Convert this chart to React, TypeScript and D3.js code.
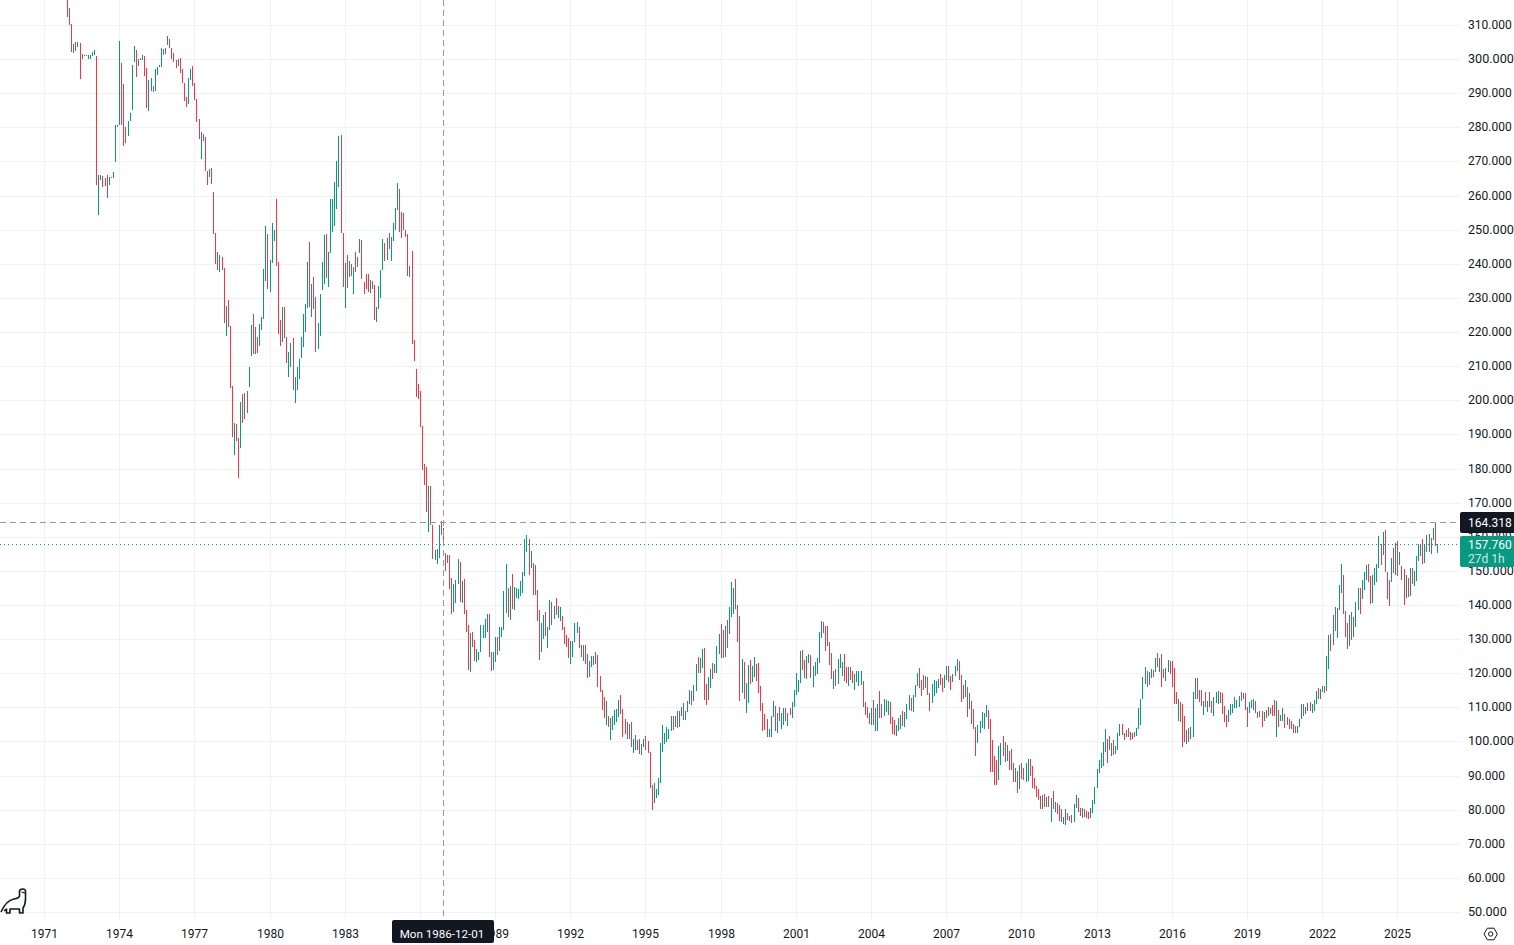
import * as d3 from "d3";

// [high, low, up] for each month, one array per three-year axis step
type Bar = [number, number, number];

const bars1971: Bar[] = [
  [317.4, 312.6, 0],
  [315.1, 310.2, 0], [310.4, 302.2, 0], [304.5, 302, 1], [305.1, 302.6, 0], [305.3, 303.6, 1], [304.8, 294.4, 0],
  [301.6, 300.1, 1], [301.3, 301, 0], [301.3, 301, 1], [301.3, 300.3, 1], [301.3, 300.2, 1], [302.2, 301, 1],
  [302.8, 301.4, 1], [301, 263.3, 0], [266.2, 254.5, 1], [266.2, 264.7, 1], [265.9, 262.7, 0], [265.3, 262.9, 0],
  [266.2, 259.5, 0], [265.6, 263.2, 1], [265.6, 265.3, 1], [267, 265.3, 1], [280.8, 270, 1], [280.8, 280.3, 1],
];
const bars1974: Bar[] = [
  [305.4, 280.7, 1], [299, 280.9, 0], [292.8, 274.7, 0], [280.2, 275.6, 0], [282, 277.7, 1], [284.3, 282.1, 1],
  [298.4, 285.3, 1], [303.9, 299.4, 1], [302.8, 294.9, 0], [300.1, 298.1, 1], [300.4, 299.8, 0], [301.3, 299.8, 1],
  [301, 295.2, 0], [297.5, 285.8, 0], [294, 284.9, 1], [294.6, 290.8, 1], [292.2, 290.5, 0], [297.2, 290.8, 1],
  [297.8, 295.4, 1], [298.4, 297.8, 1], [303.4, 297.8, 1], [303.1, 301.3, 0], [303.4, 301.6, 1], [306.9, 304.2, 1],
  [306, 303.4, 0], [303.4, 300.1, 0], [301.9, 299.3, 0], [299.8, 297.5, 0], [300.1, 298.1, 1], [300.4, 296, 0],
  [297.2, 293.1, 0], [293.1, 287.8, 0], [289, 286.1, 0], [294.6, 287, 1], [297.2, 294, 1], [298.1, 292.2, 0],
];
const bars1977: Bar[] = [
  [293.1, 288.1, 0], [288.4, 281.7, 0], [282.6, 276.7, 0], [278.8, 270.8, 1], [278.2, 276.1, 0], [277.3, 267.3, 0],
  [267.3, 263.2, 0], [267.9, 265.6, 1], [268.2, 263.5, 0], [261.2, 248.9, 0], [249.2, 240.1, 0], [243.5, 238.3, 0],
  [242.6, 237.7, 1], [242, 238.3, 0], [238.8, 222.8, 0], [227.9, 218.9, 1], [229.4, 221.6, 0], [221.8, 203.7, 0],
  [204.2, 189.3, 0], [193.6, 184, 1], [193.3, 188.2, 0], [189.2, 177.3, 0], [199.5, 186.1, 1], [202.1, 193.4, 0],
  [202.4, 194.6, 1], [203, 196.4, 0], [209.8, 204, 1], [222.1, 213.1, 1], [225.3, 213.7, 0], [221.5, 213.7, 0],
  [218.6, 214, 0], [222.4, 216, 1], [224.7, 220.7, 1], [238.5, 223.9, 1], [251.1, 235.1, 1], [249, 232.9, 0],
];
const bars1980: Bar[] = [
  [241.4, 231.8, 1], [252, 240.4, 1], [250.2, 246.7, 1], [259, 239.5, 0], [240.8, 219.5, 0], [223.8, 216, 0],
  [227.6, 217.2, 1], [227.4, 218.4, 0], [218.6, 211, 0], [214.2, 206.9, 1], [216.8, 209.9, 1], [218.3, 203.1, 0],
  [207.1, 199.3, 1], [210, 203.1, 1], [212.1, 206.3, 1], [218.6, 212.5, 1], [225.3, 215.7, 1], [228.5, 220.1, 1],
  [240.8, 227.1, 1], [246.4, 227.6, 0], [234.1, 224.5, 1], [236.4, 226.9, 0], [230.3, 214.3, 0], [222.9, 215.1, 1],
  [231.2, 219, 1], [240.8, 232.4, 1], [248.5, 234.2, 1], [249, 236, 0], [243.5, 233.3, 1], [259.1, 243.3, 1],
  [259.1, 249.6, 1], [264, 251.3, 1], [270.2, 256.3, 1], [277.5, 262.7, 1], [277.8, 249.2, 0], [249.1, 233.3, 0],
];
const bars1983: Bar[] = [
  [240.5, 227.1, 1], [242.6, 233, 0], [241.1, 236.2, 1], [240, 236.5, 0], [239.1, 231.3, 1], [243.5, 237.7, 0],
  [242, 239.2, 1], [247.3, 243.3, 1], [247, 235.7, 0], [234.7, 231.3, 0], [237.3, 232.7, 0], [237.3, 231.8, 0],
  [235.3, 231.6, 1], [235, 232.9, 0], [233.8, 223.6, 0], [227.4, 223.1, 1], [233.5, 226.9, 1], [238.2, 230.1, 1],
  [247.3, 238.3, 1], [246.1, 240.9, 0], [247.6, 241.4, 1], [249.3, 244.5, 0], [247.9, 240.9, 1], [252, 246.8, 1],
  [256.4, 250.2, 1], [263.7, 255.9, 1], [262, 249.4, 0], [255.2, 247.7, 0], [254.9, 250.2, 0], [250.2, 248, 0],
  [248.8, 236.5, 0], [239.4, 236.2, 1], [243.8, 216.6, 0], [217.7, 211.6, 0], [209.2, 201, 0], [205, 200.5, 0],
];
const bars1986: Bar[] = [
  [203, 192.3, 0], [192.5, 179.6, 0], [181.6, 175.2, 0], [180.7, 167.5, 0], [174.9, 161.4, 1], [175.1, 163.6, 0],
  [163.6, 153.7, 0], [156.3, 153.4, 1], [156.6, 152.2, 1], [163.6, 154, 1], [164.8, 160.7, 0], [162.8, 158.1, 0],
  [155.4, 150.2, 0], [154.7, 152.3, 0], [154.7, 144.9, 0], [148.1, 137.5, 0], [146.3, 138, 1], [147.5, 140.7, 1],
  [153.7, 146.3, 1], [152.8, 141, 0], [147.2, 140.7, 1], [147.8, 137.5, 0], [138.7, 132.2, 0], [134.3, 121.1, 0],
  [131.9, 120.5, 1], [132.2, 127.8, 0], [129.9, 123.7, 0], [127.2, 123.4, 1], [126.4, 124, 1], [134.3, 126.4, 1],
  [134.3, 130.5, 1], [136, 130.5, 1], [137.5, 132.2, 1], [137.5, 124.9, 0], [126.4, 120.8, 0], [126.4, 121.1, 1],
];
const bars1989: Bar[] = [
  [130.8, 123.4, 1], [130.8, 125.5, 0], [133.7, 126.7, 1], [133.7, 130.8, 1], [144.3, 132.8, 1], [152.2, 137.8, 1],
  [145.1, 136.6, 0], [145.7, 135.8, 1], [149.2, 139, 0], [145.4, 138.7, 1], [145.1, 142.2, 1], [144.8, 141.9, 1],
  [147.2, 142.8, 1], [149.8, 143.7, 1], [159.5, 148.7, 1], [160.7, 155.7, 1], [159.5, 149, 0], [156, 151, 1],
  [152.5, 143.1, 0], [151.9, 143.1, 0], [144.6, 135.5, 0], [138.7, 124, 0], [134.9, 126.4, 1], [137.2, 130.2, 1],
  [138.1, 131.1, 0], [133.7, 127.5, 1], [141.6, 132.8, 1], [141, 134.3, 0], [139.9, 136, 1], [142.2, 137.2, 0],
  [139.9, 136.3, 1], [139.6, 135.5, 1], [136.9, 132.8, 0], [133.7, 128.7, 0], [131.4, 127.8, 0], [130.5, 124.6, 0],
];
const bars1992: Bar[] = [
  [129.6, 122.9, 1], [129.6, 124.9, 1], [134.9, 129.3, 1], [135.2, 131.9, 1], [133.7, 127.5, 0], [128.4, 124.9, 0],
  [128.4, 123.7, 1], [128.4, 122.9, 0], [125.8, 118.7, 0], [123.7, 119, 1], [125.2, 122, 1], [125.2, 122.6, 1],
  [126.4, 122.9, 0], [125.5, 116.1, 0], [119.3, 114.6, 0], [115.2, 109.4, 0], [113.2, 107, 0], [112, 105, 1],
  [107.6, 104.4, 0], [107, 100.6, 1], [107.6, 103.5, 1], [109.4, 105, 1], [109.7, 105.8, 1], [112.3, 107.3, 1],
  [113.8, 108.2, 0], [109.7, 101.4, 0], [106.7, 102.3, 0], [105.8, 100.9, 0], [105.3, 100.9, 1], [105.8, 98.5, 0],
  [100.9, 96.8, 1], [102, 97.6, 1], [100.6, 97.6, 0], [100.9, 96.5, 0], [99.4, 96.2, 1], [100.9, 98.5, 1],
];
const bars1995: Bar[] = [
  [101.7, 97.6, 0], [100.3, 96.8, 0], [97, 86.5, 0], [87.4, 80, 0], [88, 82.1, 1], [86.2, 83.6, 1],
  [89.4, 84.4, 1], [99.7, 88, 1], [105, 97, 1], [102.6, 99.4, 1], [104.4, 100, 1], [103.8, 100.9, 1],
  [107.6, 103.2, 1], [107.6, 103.5, 0], [107.6, 104.4, 1], [109.1, 104.1, 0], [109.1, 104.4, 1], [110.2, 107.6, 1],
  [111.4, 106.4, 0], [109.1, 106.4, 1], [112, 108.8, 1], [115.2, 111.1, 1], [114.9, 110.8, 0], [116.7, 112, 1],
  [122.8, 114.8, 1], [124.9, 120.1, 0], [124.6, 120.1, 1], [127.2, 121.6, 1], [127.5, 112.2, 0], [116.9, 110.7, 0],
  [119, 112.2, 1], [121.3, 115.7, 1], [123.1, 118.4, 0], [122.8, 120.1, 1], [128.1, 120.1, 1], [131.6, 125.7, 1],
];
const bars1998: Bar[] = [
  [134.6, 124.6, 0], [132.7, 124.7, 0], [134, 124.9, 1], [135.8, 127.5, 0], [139.6, 131.6, 1], [147, 136.6, 1],
  [145.2, 137.5, 1], [147.8, 139, 0], [140.2, 129.3, 0], [136.9, 111.9, 0], [124.3, 114.2, 1], [123.4, 112.5, 0],
  [117.2, 108.4, 1], [122.5, 111.3, 1], [124, 116.9, 0], [122.2, 117.5, 1], [124.9, 119, 1], [122.8, 117.8, 0],
  [123.1, 114.2, 0], [116.3, 109.2, 0], [111.3, 103.3, 0], [108.1, 103.6, 0], [106.6, 101.3, 0], [103.9, 101.3, 1],
  [107.5, 101.3, 1], [111.9, 107.2, 1], [110.4, 103.3, 0], [108.4, 102.7, 1], [110.1, 106, 0], [108.6, 103.9, 1],
  [109.8, 105.1, 1], [109.8, 106, 0], [108.4, 104.8, 1], [109.8, 107.8, 0], [111.6, 106.9, 1], [115.1, 110.1, 1],
];
const bars2001: Bar[] = [
  [120.1, 113.7, 1], [118.1, 114.5, 1], [126.6, 117.2, 1], [126.9, 121, 0], [124, 118.7, 0], [125.1, 118.4, 1],
  [125.7, 123.1, 1], [125.4, 118.7, 0], [122.2, 116, 1], [123.4, 119.3, 1], [124.6, 119.8, 1], [132.2, 123.1, 1],
  [135.5, 130.5, 1], [135.2, 131.9, 0], [134, 126.6, 0], [134, 128.1, 0], [129.3, 122.5, 0], [126, 118.4, 0],
  [120.7, 115.4, 1], [121.3, 116.3, 0], [124.3, 116.9, 1], [125.7, 121.6, 1], [123.4, 119.3, 1], [125.7, 117.8, 0],
  [121.9, 117.2, 0], [121.9, 116.3, 1], [121.9, 118.1, 0], [120.7, 117.2, 0], [119.8, 115.1, 1], [120.7, 117.5, 1],
  [120.7, 116.3, 1], [120.7, 116.6, 1], [117.8, 110.1, 0], [111.6, 107.8, 0], [110.1, 106.9, 0], [108.6, 105.4, 0],
];
const bars2004: Bar[] = [
  [109.8, 105.1, 1], [112.2, 105.1, 0], [109.8, 103.3, 1], [111, 103.3, 1], [114.8, 106.9, 0], [111, 106.9, 0],
  [112.5, 107.5, 1], [112.2, 108.9, 1], [111.9, 107.8, 1], [111.6, 105.4, 0], [107.2, 102.2, 0], [106.3, 101.9, 0],
  [105.1, 101.6, 1], [106.9, 103.3, 1], [107.9, 103.8, 1], [109.1, 104.7, 0], [108.8, 104.4, 1], [111.1, 106.7, 1],
  [113.8, 109.4, 1], [112.9, 109.1, 0], [113.8, 108.8, 1], [116.7, 113.2, 1], [120.2, 116.4, 1], [121.7, 115.8, 0],
  [118.1, 113.5, 0], [119.6, 115.2, 0], [119.3, 115.8, 1], [119, 113.8, 0], [114.3, 109.1, 0], [117, 111.4, 1],
  [118.1, 113.5, 1], [117.9, 114.3, 1], [118.4, 115.8, 1], [119.9, 116.7, 0], [118.7, 114.6, 0], [119.6, 115.8, 1],
];
const bars2007: Bar[] = [
  [122.2, 118.1, 1], [122.2, 117.6, 0], [119.3, 115.2, 0], [119.9, 117.6, 1], [122.2, 119.3, 1], [124.3, 120.8, 1],
  [123.7, 118.1, 0], [119.6, 111.7, 0], [116.7, 112.6, 0], [118.1, 113.2, 1], [116.1, 107.3, 0], [114.3, 109.7, 1],
  [112, 105.3, 0], [109.7, 103.8, 0], [104.4, 95.9, 0], [105, 99.7, 1], [106.1, 102.6, 1], [108.8, 104.1, 1],
  [108.5, 103.8, 1], [110.8, 107.3, 1], [109.4, 103.8, 0], [106.7, 91.2, 0], [100.6, 91.2, 0], [95.9, 87.4, 0],
  [94.7, 87.4, 0], [98.8, 88.9, 1], [99.7, 93.3, 1], [101.8, 95.9, 0], [100, 94.1, 0], [99.1, 94.4, 1],
  [97.4, 91.8, 0], [98, 91.8, 0], [93.9, 88.3, 0], [92.4, 88.3, 1], [91.5, 85.1, 0], [93.3, 86.2, 1],
];
const bars2010: Bar[] = [
  [93.9, 89.2, 0], [92.4, 88.9, 0], [93.9, 88.3, 1], [95, 88.6, 1], [95, 90, 0], [93, 86.5, 0],
  [89.5, 86.2, 0], [87.1, 83.9, 0], [86.2, 83, 0], [84.2, 80.4, 0], [84.5, 80.4, 1], [84.8, 81, 0],
  [83.9, 81, 1], [84.2, 81, 0], [83.6, 76.6, 1], [85.7, 80.4, 0], [82.4, 79.5, 1], [82.1, 78.9, 0],
  [81.6, 76.9, 0], [80.4, 76.6, 0], [78, 76, 1], [80.2, 75.7, 1], [79.2, 77.2, 0], [78.3, 76.9, 0],
  [78.6, 76.3, 0], [81.9, 76.6, 1], [84.5, 80.7, 1], [83.6, 79.5, 0], [80.7, 78.3, 0], [80.7, 77.8, 1],
  [80.4, 78, 0], [79.8, 77.8, 0], [79.5, 77.5, 0], [80.7, 77.8, 1], [83, 79.2, 1], [86.8, 81.9, 1],
];
const bars2013: Bar[] = [
  [92.1, 86.5, 1], [94.7, 90.9, 1], [96.8, 92.4, 1], [100, 93, 1], [103.8, 97.1, 1], [100.9, 93.9, 0],
  [101.8, 97.7, 0], [99.8, 96, 1], [100.7, 96.3, 0], [98.9, 96.6, 1], [102.7, 97.5, 1], [105.4, 101.6, 1],
  [105.4, 101.9, 0], [102.7, 100.7, 0], [103.6, 101.3, 1], [104.2, 101.3, 0], [103, 100.7, 0], [102.7, 101, 0],
  [103, 101.3, 1], [104.2, 101.6, 1], [109.8, 103.9, 1], [112.5, 105.1, 1], [118.9, 112.5, 1], [121.9, 116.9, 1],
  [120.7, 116, 0], [120.4, 116.6, 1], [121.3, 118.6, 1], [121, 118.9, 0], [124.5, 120.4, 1], [126, 121.9, 0],
  [124.5, 120.4, 1], [125.7, 116, 0], [121.3, 118.6, 0], [121.6, 118, 1], [123.9, 120.4, 1], [123.6, 119.8, 0],
];
const bars2016: Bar[] = [
  [123.6, 116, 0], [121.6, 111, 0], [114.5, 111, 0], [112.7, 106, 1], [111.6, 105.7, 0], [111, 98.6, 0],
  [107.5, 100, 0], [103.6, 99.5, 1], [104.2, 100.1, 0], [104.5, 101, 1], [114.5, 101.3, 1], [118.6, 112.7, 1],
  [118.6, 112.5, 0], [115.1, 111.6, 0], [115.1, 110.4, 0], [111.9, 108, 1], [114.5, 110.1, 0], [111.9, 108.9, 1],
  [114.5, 110.1, 0], [111.9, 108.6, 0], [113.3, 107.5, 1], [114.5, 111.3, 1], [114.8, 111, 1], [114.5, 111.3, 0],
  [114.2, 108.3, 0], [110.4, 105.7, 0], [107.8, 104.5, 0], [109.5, 105.7, 1], [111, 108, 1], [111, 108.6, 1],
  [113.3, 109.8, 1], [112.2, 109.8, 1], [113.6, 110.1, 1], [114.5, 111.9, 0], [114.2, 112.5, 1], [114.2, 109.5, 0],
];
const bars2019: Bar[] = [
  [110.1, 104.5, 0], [111.6, 108.6, 1], [112.2, 109.8, 1], [112.5, 109.5, 1], [111.9, 108.6, 0], [108.9, 106.9, 0],
  [109.2, 107.2, 1], [109.2, 104.5, 0], [108.9, 106, 1], [109.5, 106.9, 0], [110.1, 107.7, 1], [109.8, 108.3, 0],
  [110.7, 107.5, 0], [112.2, 107.5, 0], [111.9, 101.3, 1], [109.5, 104.5, 0], [108, 106, 1], [109.8, 106, 1],
  [108.3, 104.2, 0], [107.2, 105.1, 1], [106.6, 103.9, 0], [106, 103.9, 0], [105.4, 102.7, 0], [104.8, 102.7, 0],
  [104.8, 102.5, 1], [106.6, 104.5, 1], [111, 106.6, 1], [111, 107.5, 0], [110.1, 108.3, 1], [111.3, 109.2, 1],
  [111.6, 109.2, 0], [111, 108.6, 1], [112.2, 109.2, 1], [114.8, 111, 1], [115.7, 112.5, 0], [115.4, 112.5, 1],
];
const bars2022: Bar[] = [
  [116.3, 114.5, 1], [116.3, 114.2, 0], [125.1, 114.8, 1], [131.3, 121.3, 1], [131.6, 126.6, 0], [137.2, 128.3, 1],
  [139.5, 132.4, 0], [139.2, 130.4, 1], [146, 138.6, 1], [152.2, 143.6, 1], [148.9, 137.4, 0], [138.3, 130.7, 0],
  [134.8, 127.2, 0], [137.2, 128, 1], [138, 129.8, 0], [136.6, 130.7, 1], [141, 133.6, 1], [145.1, 138.6, 1],
  [145.1, 137.5, 0], [147.5, 141.9, 1], [149.8, 144.5, 1], [151.9, 147.5, 1], [152.2, 146.9, 0], [148.6, 140.4, 0],
  [148.9, 140.7, 1], [151, 146, 1], [152.2, 146.9, 1], [160.4, 151, 1], [158, 151.9, 0], [161.6, 154.8, 1],
  [162.2, 149.8, 0], [149.8, 141.9, 0], [147.5, 139.8, 0], [153.9, 146.9, 1], [156.9, 149.5, 0], [158.3, 148.9, 1],
];
const bars2025: Bar[] = [
  [158.9, 148.6, 0], [155.7, 151.9, 1], [151.6, 147.5, 0], [150.7, 140.1, 0], [148.9, 142.2, 1], [148, 142.5, 0],
  [151, 142.7, 1], [151, 146.3, 0], [150.1, 145.7, 1], [154.5, 147.2, 1], [158, 153, 1], [158, 154.5, 1],
  [159.5, 152.2, 0], [157.7, 152.5, 1], [160.7, 155.7, 1], [161, 155.7, 0], [159.8, 155.1, 1], [162.7, 159.2, 1],
  [164.2, 157.5, 0], [158, 155.4, 1],
];

const yearTicks = [1971, 1974, 1977, 1980, 1983, 1986, 1989, 1992, 1995, 1998, 2001, 2004, 2007, 2010, 2013, 2016, 2019, 2022, 2025];
// the cursor's date label sits on top of this one in the reference
const hiddenYear = 1986;
const priceTicks = [50, 60, 70, 80, 90, 100, 110, 120, 130, 140, 150, 160, 170, 180, 190, 200, 210, 220, 230, 240, 250, 260, 270, 280, 290, 300, 310];
const lastPrice = 157.76;
const cursorPrice = 164.318;
const cursorMonth = 191; // Dec 1986, months after Jan 1971

const UP = "#089981";
const DOWN = "#f23645";
const INK = "#131722";
const GRID = "#f0f1f3";
const CROSS = "#9598a1";
const PLOT_RIGHT = 1460;
const PLOT_BOTTOM = 920;
const FONT = "Roboto, sans-serif";

const periods: [number, Bar[]][] = [
  [11, bars1971], [36, bars1974], [72, bars1977], [108, bars1980], [144, bars1983], [180, bars1986], [216, bars1989],
  [252, bars1992], [288, bars1995], [324, bars1998], [360, bars2001], [396, bars2004], [432, bars2007], [468, bars2010],
  [504, bars2013], [540, bars2016], [576, bars2019], [612, bars2022], [648, bars2025],
];

const monthScale = d3.scaleLinear().domain([0, 648]).range([44.02, 1397.24]);
const priceScale = d3.scaleLinear().domain([50, 310]).range([912.5, 25.5]);
const px = (month: number) => Math.round(monthScale(month));
const py = (price: number) => Math.floor(priceScale(price)) + 0.5;

const bars = d3.merge<{ month: number; bar: Bar }>(
  periods.map(([start, rows]) => rows.map((bar, i) => ({ month: start + i, bar })))
);

export default function App() {
  const cursorX = px(cursorMonth) + 0.5;
  const cursorY = py(cursorPrice);
  const lastY = py(lastPrice);

  return (
    <svg
      width={1514}
      height={945}
      style={{ position: "absolute", left: 0, top: 0, display: "block", background: "#fff" }}
      fontFamily={FONT}
    >
      {/* grid */}
      {priceTicks.map((p) => (
        <line key={p} x1={0} x2={PLOT_RIGHT} y1={py(p)} y2={py(p)} stroke={GRID} />
      ))}
      {yearTicks.map((y) => {
        const x = px((y - 1971) * 12) + 0.5;
        return <line key={y} x1={x} x2={x} y1={0} y2={PLOT_BOTTOM} stroke={GRID} />;
      })}

      {/* monthly bars */}
      {bars.map(({ month, bar }) => {
        const top = priceScale(bar[0]);
        const bottom = priceScale(bar[1]);
        return (
          <rect
            key={month}
            x={px(month)}
            y={Math.round(top)}
            width={1}
            height={Math.max(1, Math.round(bottom) - Math.round(top))}
            fill={bar[2] ? UP : DOWN}
          />
        );
      })}

      {/* last price and crosshair */}
      <line x1={0} x2={PLOT_RIGHT} y1={lastY} y2={lastY} stroke={UP} strokeDasharray="1 3" />
      <line x1={0} x2={PLOT_RIGHT} y1={cursorY} y2={cursorY} stroke={CROSS} strokeDasharray="6 4" />
      <line x1={cursorX} x2={cursorX} y1={0} y2={PLOT_BOTTOM} stroke={CROSS} strokeDasharray="6 4" />

      {/* price axis */}
      {priceTicks.map((p) => (
        <text
          key={p}
          x={1468}
          y={py(p) - 1}
          dominantBaseline="central"
          fontSize={p % 50 === 0 ? 12.6 : 12}
          fill={INK}
        >
          {p.toFixed(3)}
        </text>
      ))}

      {/* time axis */}
      {yearTicks
        .filter((y) => y !== hiddenYear)
        .map((y) => (
          <text key={y} x={px((y - 1971) * 12) + 0.5} y={934} textAnchor="middle" dominantBaseline="central" fontSize={12} fill={INK}>
            {y}
          </text>
        ))}

      {/* cursor labels */}
      <path d={`M1514 512H1462a2 2 0 0 0 -2 2V531a2 2 0 0 0 2 2H1514Z`} fill={INK} />
      <text x={1468} y={522.5} dominantBaseline="central" fontSize={12} fill="#fff">
        {cursorPrice.toFixed(3)}
      </text>
      <path d={`M1514 536H1462a2 2 0 0 0 -2 2V565a2 2 0 0 0 2 2H1514Z`} fill={UP} />
      <text x={1468} y={544.5} dominantBaseline="central" fontSize={12} fill="#fff">
        {lastPrice.toFixed(3)}
      </text>
      <text x={1468} y={558.5} dominantBaseline="central" fontSize={12} fill="#fff" fillOpacity={0.8}>
        27d 1h
      </text>
      <rect x={392} y={920} width={102} height={23} rx={2} fill={INK} />
      <text x={442} y={934} textAnchor="middle" dominantBaseline="central" fontSize={11.6} fill="#fff">
        Mon 1986-12-01
      </text>

      {/* logo */}
      <path
        d="M1 912 C4 905 9 900 14 899 C17 898.500 19 898 19.500 896 L19.500 891 C20 888.500 25 888 25.500 891 L25.500 899 C25.500 903 24.500 906 23 908 L23 913 L19.500 913 L19.500 909 L10 909 L10 913 L6.500 913 L6.500 909 L4 911"
        fill="none"
        stroke={INK}
        strokeWidth={1.6}
        strokeLinejoin="round"
      />
      <path d="M21.500 892 L25 893" fill="none" stroke={INK} strokeWidth={1.2} />

      {/* settings */}
      <path d="M1484 934 L1487.300 928.200 H1494 L1497.300 934 L1494 939.800 H1487.300 Z" fill="none" stroke={INK} />
      <circle cx={1490.700} cy={934} r={2.200} fill="none" stroke={INK} />
    </svg>
  );
}
